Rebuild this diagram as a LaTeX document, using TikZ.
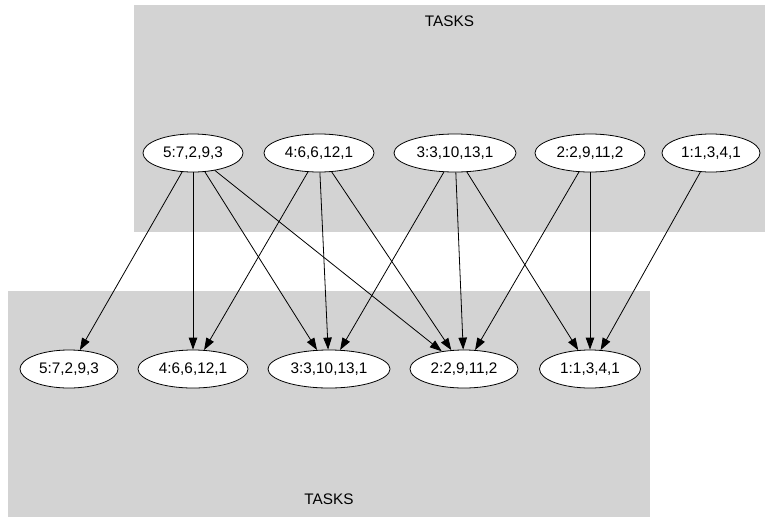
\documentclass[tikz,border=0pt]{standalone}
\usepackage{fontspec}
\setmainfont{Liberation Sans}
\usetikzlibrary{shapes.geometric,arrows.meta}
\definecolor{clustergrey}{RGB}{211,211,211}
\tikzset{
  task/.style={ellipse, draw=black, fill=white, line width=0.8pt, inner sep=0pt,
    minimum height=38pt, font=\fontsize{15.3}{17}\selectfont},
  dep/.style={draw=black, line width=0.8pt, -{Triangle[length=12pt,width=8.5pt]}},
  cluster/.style={fill=clustergrey, draw=none},
  clabel/.style={font=\fontsize{15.3}{17}\selectfont}
}
\begin{document}
\begin{tikzpicture}[x=1pt,y=-1pt]
\useasboundingbox (0,0) rectangle (765,517);
% clusters
\fill[cluster] (134,5) rectangle (765,232);
\fill[cluster] (8,291) rectangle (650,517);
\node[clabel] (ltop) at (449.5,21) {TASKS};
\node[clabel] (lbot) at (329,499) {TASKS};
% top row
\node[task, minimum width=100pt] (t5) at (193,153) {5:7,2,9,3};
\node[task, minimum width=110pt] (t4) at (319,153) {4:6,6,12,1};
\node[task, minimum width=122pt] (t3) at (455,153) {3:3,10,13,1};
\node[task, minimum width=110pt] (t2) at (590,153) {2:2,9,11,2};
\node[task, minimum width=98pt]  (t1) at (711,153) {1:1,3,4,1};
% bottom row
\node[task, minimum width=98pt]  (b5) at (69,369) {5:7,2,9,3};
\node[task, minimum width=110pt] (b4) at (193,369) {4:6,6,12,1};
\node[task, minimum width=122pt] (b3) at (329,369) {3:3,10,13,1};
\node[task, minimum width=108pt] (b2) at (464,369) {2:2,9,11,2};
\node[task, minimum width=101pt] (b1) at (590,369) {1:1,3,4,1};
% edges
\draw[dep] (t5) -- (b5);
\draw[dep] (t5) -- (b4);
\draw[dep] (t5) -- (b3);
\draw[dep] (t5) -- (b2);
\draw[dep] (t4) -- (b4);
\draw[dep] (t4) -- (b3);
\draw[dep] (t4) -- (b2);
\draw[dep] (t3) -- (b3);
\draw[dep] (t3) -- (b2);
\draw[dep] (t3) -- (b1);
\draw[dep] (t2) -- (b2);
\draw[dep] (t2) -- (b1);
\draw[dep] (t1) -- (b1);
\end{tikzpicture}
\end{document}
